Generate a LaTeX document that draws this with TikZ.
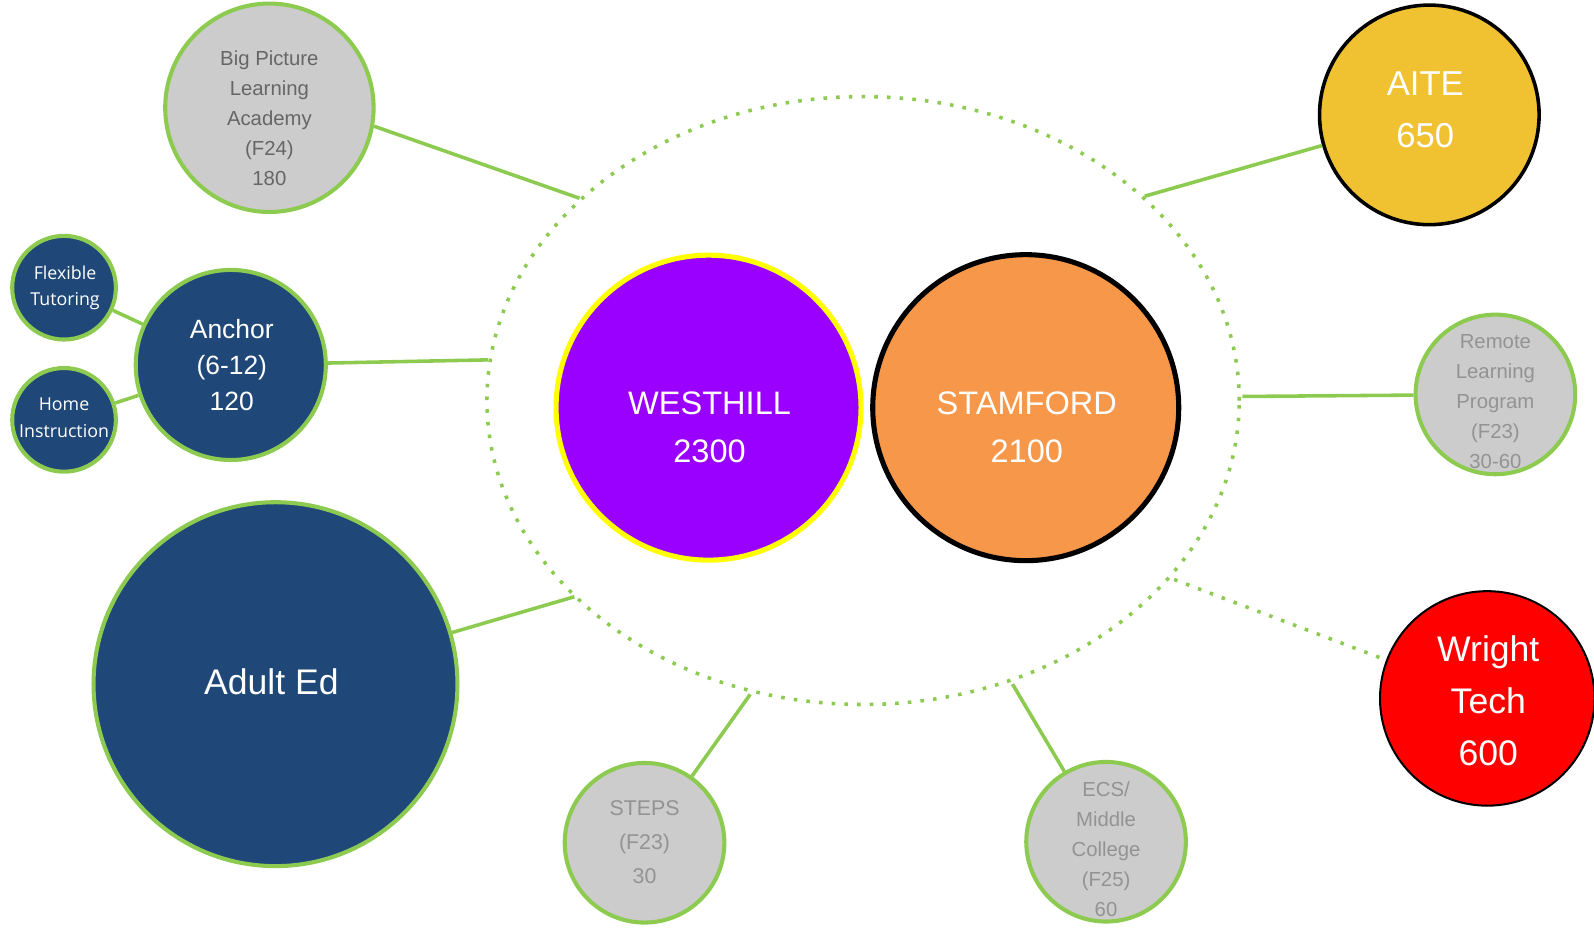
\documentclass[tikz,border=0pt]{standalone}
\usepackage{fontspec}
\setmainfont{Liberation Sans}
\newfontfamily\osans{Open Sans}
\usetikzlibrary{shapes.geometric}
\definecolor{grn}{HTML}{8DCB50}
\definecolor{navy}{HTML}{1F4878}
\definecolor{lgray}{HTML}{CCCCCC}
\definecolor{dgtext}{HTML}{666666}
\definecolor{ltext}{HTML}{939393}
\definecolor{purp}{HTML}{9900FF}
\definecolor{yel}{HTML}{FFFF00}
\definecolor{orng}{HTML}{F6974A}
\definecolor{gold}{HTML}{F0C232}
\definecolor{rd}{HTML}{FF0000}
\tikzset{
  bub/.style={circle, inner sep=0pt, minimum size=#1},
  grayb/.style={bub=#1, fill=lgray, draw=grn, line width=4pt},
  navyb/.style={bub=#1, fill=navy, draw=grn, line width=4pt},
  conn/.style={draw=grn, line width=3.5pt},
  dotline/.style={draw=grn, line width=3.5pt, dash pattern=on 3.5pt off 9pt},
  lbl/.style={align=center, text=white},
}
\begin{document}
\begin{tikzpicture}[x=1pt,y=-1pt]
\useasboundingbox (0,0) rectangle (1568,914);
% ring
\node[ellipse, minimum width=740, minimum height=598, inner sep=0pt, dotline] (ring) at (849,394) {};
\coordinate (rBP) at (570,195);
\coordinate (rAI) at (1126,193);
\coordinate (rAN) at (480,354);
\coordinate (rRE) at (1222,390);
\coordinate (rAD) at (565,587);
\coordinate (rST) at (738,683);
\coordinate (rEC) at (996,673);
\coordinate (rWT) at (1155,570);
% main
\node[bub=300, fill=purp, draw=yel, line width=5pt] (west) at (697,401) {};
\node[lbl, font=\fontsize{32}{47}\selectfont] (westt) at (698,420) {WESTHILL\\2300};
\node[bub=301, fill=orng, draw=black, line width=5pt] (stam) at (1009,401) {};
\node[lbl, font=\fontsize{32}{47}\selectfont] (stamt) at (1010,420) {STAMFORD\\2100};
% satellites
\node[bub=216, fill=gold, draw=black, line width=3.5pt] (aite) at (1406,113) {};
\node[lbl, font=\fontsize{34}{51}\selectfont] (aitet) at (1402,108) {AITE\\650};
\node[bub=211, fill=rd, draw=black, line width=2pt] (wt) at (1463,687) {};
\node[lbl, font=\fontsize{35}{51}\selectfont] (wtt) at (1464,689) {Wright\\Tech\\600};
\node[grayb=157] (rem) at (1471,388) {};
\node[align=center, text=ltext, font=\fontsize{20}{29.5}\selectfont] (remt) at (1471,395) {Remote\\Learning\\Program\\(F23)\\30-60};
\node[grayb=157] (ecs) at (1088,828) {};
\node[align=center, text=ltext, font=\fontsize{20}{29.5}\selectfont] (ecst) at (1088,835) {ECS/\\Middle\\College\\(F25)\\60};
\node[grayb=157] (steps) at (634,829) {};
\node[align=center, text=ltext, font=\fontsize{21}{33.5}\selectfont] (stepst) at (634,828) {STEPS\\(F23)\\30};
\node[grayb=205] (bp) at (265,106) {};
\node[align=center, text=dgtext, font=\fontsize{20}{29.5}\selectfont] (bpt) at (265,116) {Big Picture\\Learning\\Academy\\(F24)\\180};
\node[navyb=358] (adult) at (271,673) {};
\node[lbl, font=\fontsize{35}{42}\selectfont] (adultt) at (267,671) {Adult Ed};
\node[navyb=187] (anchor) at (227,359) {};
\node[lbl, font=\fontsize{26}{35.5}\selectfont] (anchort) at (228,359) {Anchor\\(6-12)\\120};
\node[navyb=102] (flex) at (63,283) {};
\node[lbl, font=\osans\fontsize{17.5}{26}\selectfont] (flext) at (64,283) {Flexible\\Tutoring};
\node[navyb=102] (home) at (63,413) {};
\node[lbl, font=\osans\fontsize{17.5}{26}\selectfont] (homet) at (63,411) {Home\\Instruction};
% connectors
\draw[conn] (bp.-10) -- (rBP);
\draw[conn] (aite) -- (rAI);
\draw[conn] (anchor) -- (rAN);
\draw[conn] (rem) -- (rRE);
\draw[conn] (adult) -- (rAD);
\draw[conn] (steps) -- (rST);
\draw[conn] (ecs) -- (rEC);
\draw[dotline] (rWT) -- (wt);
\draw[conn] (flex) -- (anchor);
\draw[conn] (home) -- (anchor);
\end{tikzpicture}
\end{document}
